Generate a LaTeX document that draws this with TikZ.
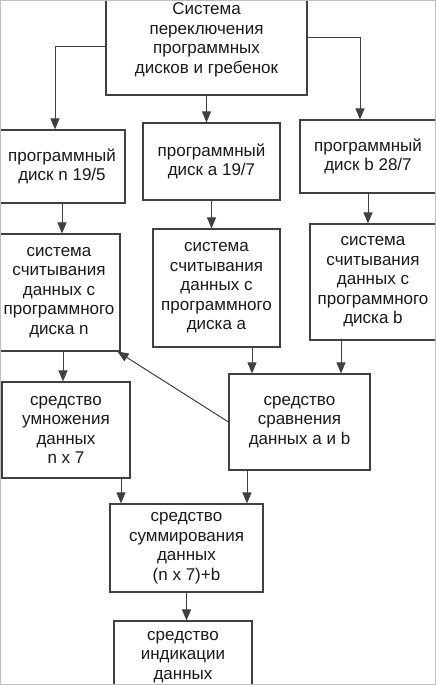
\documentclass[tikz,border=0pt]{standalone}
\usepackage{fontspec}
\setmainfont{Liberation Sans}
\usepackage{tikz}
\usetikzlibrary{arrows.meta}

\begin{document}
\begin{tikzpicture}[
            x=1pt,
            y=-1pt,
            block/.style={
                draw=black!75,
                line width=1.1pt,
                align=center,
                inner sep=1pt,
                text=black!90,
                font=\fontsize{17}{19.5}\selectfont
            },
            link/.style={
                draw=black!75,
                line width=1pt,
                -{Triangle[length=11pt,width=9pt]}
            }
        ]
            \clip (0,0) rectangle (436,685);
            \node[block, minimum width=201pt, minimum height=110pt] (sys) at (206.5,40)
                {Система\\переключения\\программных\\дисков и гребенок};
            \node[block, minimum width=126pt, minimum height=73pt] (dn) at (62,166.5)
                {программный\\диск n 19/5};
            \node[block, minimum width=137pt, minimum height=77pt] (da) at (211.5,161.5)
                {программный\\диск а 19/7};
            \node[block, minimum width=136pt, minimum height=73pt] (db) at (368,156.5)
                {программный\\диск b 28/7};
            \node[block, minimum width=122pt, minimum height=117pt] (rn) at (59,292.5)
                {система\\считывания\\данных с\\программного\\диска n};
            \node[block, minimum width=127pt, minimum height=118pt] (ra) at (216.5,288)
                {система\\считывания\\данных с\\программного\\диска а};
            \node[block, minimum width=126pt, minimum height=116pt] (rb) at (373,282)
                {система\\считывания\\данных с\\программного\\диска b};
            \node[block, minimum width=128pt, minimum height=96pt] (mul) at (66,430)
                {средство\\умножения\\данных\\n x 7};
            \node[block, minimum width=141pt, minimum height=96pt] (cmp) at (299.5,422)
                {средство\\сравнения\\данных а и b};
            \node[block, minimum width=153pt, minimum height=88pt] (sum) at (186.5,548)
                {средство\\суммирования\\данных\\(n x 7)+b};
            \node[block, minimum width=138pt, minimum height=72pt] (ind) at (183,657)
                {средство\\индикации\\данных};

            \draw[link] ([yshift=-7pt]sys.west) -| ([xshift=-7pt]dn.north);
            \draw[link] (sys.south) -- (sys.south |- da.north);
            \draw[link] ([yshift=2pt]sys.east) -| ([xshift=-8pt]db.north);
            \draw[link] (dn.south) -- (dn.south |- rn.north);
            \draw[link] (da.south) -- (da.south |- ra.north);
            \draw[link] (db.south) -- (db.south |- rb.north);
            \draw[link] ([xshift=4pt]rn.south) -- ([xshift=4pt]rn.south |- mul.north);
            \draw[link] ([xshift=35.5pt]ra.south) -- ([xshift=35.5pt]ra.south |- cmp.north);
            \draw[link] ([xshift=-32pt]rb.south) -- ([xshift=-32pt]rb.south |- cmp.north);
            \draw[link] (cmp.west) -- ([xshift=-3pt]rn.south east);
            \draw[link] ([xshift=55pt]mul.south) -- ([xshift=55pt]mul.south |- sum.north);
            \draw[link] ([xshift=-52.5pt]cmp.south) -- ([xshift=-52.5pt]cmp.south |- sum.north);
            \draw[link] (sum.south) -- (sum.south |- ind.north);

            \draw[black!25, line width=1pt] (0.5,0.5) rectangle (435.5,684.5);
        \end{tikzpicture}
\end{document}
